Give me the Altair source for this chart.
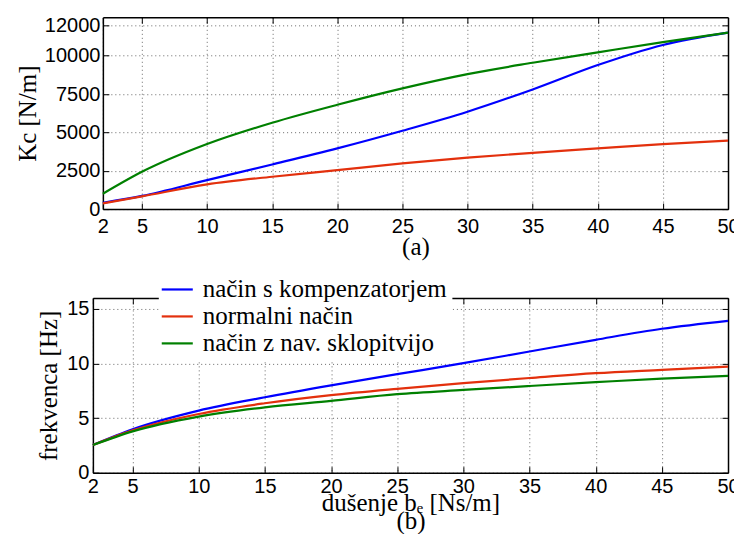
import altair as alt
import pandas as pd

# ---------------- data ----------------
b_values = [2, 5, 10, 15, 20, 25, 30, 35, 40, 45, 50]
series_names = ["način s kompenzatorjem", "normalni način", "način z nav. sklopitvijo"]
series_colors = ["#0000ff", "#e3300d", "#008000"]

kc_kompenzator = [410, 860, 1890, 2910, 3960, 5110, 6350, 7800, 9390, 10700, 11500]
kc_normalni = [370, 830, 1610, 2110, 2540, 2980, 3350, 3670, 3960, 4240, 4460]
kc_sklopitev = [1000, 2430, 4240, 5630, 6800, 7870, 8800, 9540, 10220, 10890, 11500]

f_kompenzator = [2.54, 3.98, 5.69, 6.91, 8.0, 9.02, 10.03, 11.1, 12.17, 13.18, 13.91]
f_normalni = [2.54, 3.88, 5.38, 6.36, 7.1, 7.68, 8.2, 8.67, 9.11, 9.42, 9.72]
f_sklopitev = [2.54, 3.79, 5.14, 5.99, 6.58, 7.19, 7.58, 7.94, 8.29, 8.62, 8.87]

x_ticks = [2, 5, 10, 15, 20, 25, 30, 35, 40, 45, 50]
kc_ticks = [0, 2500, 5000, 7500, 10000, 12000]
f_ticks = [0, 5, 10, 15]

rows = []
for name, kc, fr in zip(series_names,
                        [kc_kompenzator, kc_normalni, kc_sklopitev],
                        [f_kompenzator, f_normalni, f_sklopitev]):
    for b, k, f in zip(b_values, kc, fr):
        rows.append({"b": b, "series": name, "kc": k, "f": f})
df = pd.DataFrame(rows)

SANS = "Liberation Sans"
SERIF = "Liberation Serif"
W = 636


def panel(ycol, ydomain, yticks, H, left, ytitle, xtitle, xlabel_pad, ylabel_pad,
          ytitle_pad, xtitle_pad, legend, xtitle_lh):
    xs = alt.Scale(domain=[2, 50], range=[left, W], nice=False, zero=False)
    ys = alt.Scale(domain=ydomain, nice=False, zero=False)
    grid = dict(grid=True, gridColor="#666666", gridDash=[1, 3], gridWidth=1, gridOpacity=1)
    dom = dict(domain=True, domainColor="black", domainWidth=1.5)
    tick_in = dict(ticks=True, tickSize=6, tickColor="black", tickWidth=1,
                   labels=False, domain=False, grid=False, title=None,
                   minExtent=0, maxExtent=0)
    frame = dict(ticks=False, labels=False, grid=False, title=None,
                 minExtent=0, maxExtent=0, **dom)

    x_main = alt.Axis(orient="bottom", values=x_ticks, format="d", ticks=False,
                      labelFont=SANS, labelFontSize=20, labelColor="black",
                      labelPadding=xlabel_pad, labelOverlap=False, labelFlush=False,
                      title=xtitle, titleFont=SERIF, titleFontSize=25,
                      titleFontWeight="normal", titleColor="black",
                      titlePadding=xtitle_pad, titleLineHeight=xtitle_lh,
                      minExtent=0, **grid, **dom)
    y_main = alt.Axis(orient="left", offset=-left, values=yticks, format="d", ticks=False,
                      labelFont=SANS, labelFontSize=20, labelColor="black",
                      labelPadding=ylabel_pad, labelOverlap=False,
                      title=ytitle, titleFont=SERIF, titleFontSize=25,
                      titleFontWeight="normal", titleColor="black",
                      titlePadding=ytitle_pad, minExtent=0, **grid, **dom)
    x_top = alt.Axis(orient="top", values=x_ticks, **frame)
    y_right = alt.Axis(orient="right", values=yticks, **frame)
    x_tick_bottom = alt.Axis(orient="top", offset=-H, values=x_ticks, **tick_in)
    y_tick_left = alt.Axis(orient="right", offset=-(W - left), values=yticks, **tick_in)
    x_tick_top = alt.Axis(orient="bottom", offset=-H, values=x_ticks, **tick_in)
    y_tick_right = alt.Axis(orient="left", offset=-W, values=yticks, **tick_in)

    base = alt.Chart(df)
    color = alt.Color("series:N", sort=series_names,
                      scale=alt.Scale(domain=series_names, range=series_colors),
                      legend=legend)
    lines = base.mark_line(strokeWidth=2.2, interpolate="monotone").encode(
        x=alt.X("b:Q", scale=xs, axis=x_main),
        y=alt.Y(f"{ycol}:Q", scale=ys, axis=y_main),
        color=color,
    )
    layers = [lines]
    for ax_x, ax_y in [(x_top, y_right), (x_tick_bottom, y_tick_left), (x_tick_top, y_tick_right)]:
        layers.append(
            base.mark_line(opacity=0).encode(
                x=alt.X("b:Q", scale=xs, axis=ax_x),
                y=alt.Y(f"{ycol}:Q", scale=ys, axis=ax_y),
                detail="series:N",
            )
        )
    return alt.layer(*layers).resolve_axis(x="independent", y="independent").properties(
        width=W, height=H
    )


legend = alt.Legend(orient="none", legendX=66, legendY=-27, fillColor="white", padding=5,
                    symbolType="M-1.28,0H1.28", symbolSize=590, symbolStrokeWidth=2.2,
                    labelFont=SERIF, labelFontSize=25, labelColor="black", labelOffset=12,
                    labelLimit=400, rowPadding=0, title=None)

top = panel("kc", [0, 12500], kc_ticks, 192, 10, "Kc [N/m]", "(a)",
            xlabel_pad=7, ylabel_pad=3, ytitle_pad=4, xtitle_pad=-2, legend=None, xtitle_lh=25)
bottom = panel("f", [0, 16], f_ticks, 175, 0, "frekvenca [Hz]",
               ["dušenje bₑ [Ns/m]", "(b)\u00a0\u00a0\u00a0"],
               xlabel_pad=4, ylabel_pad=4, ytitle_pad=5, xtitle_pad=-6, legend=legend, xtitle_lh=18)

chart = alt.vconcat(top, bottom, spacing=89, bounds="flush").resolve_scale(
    color="independent"
).properties(
    padding={"left": 7, "top": 6, "right": -6, "bottom": 0}
).configure_view(strokeWidth=0)

chart.save("out.html", embed_options={"renderer": "svg", "actions": False})
